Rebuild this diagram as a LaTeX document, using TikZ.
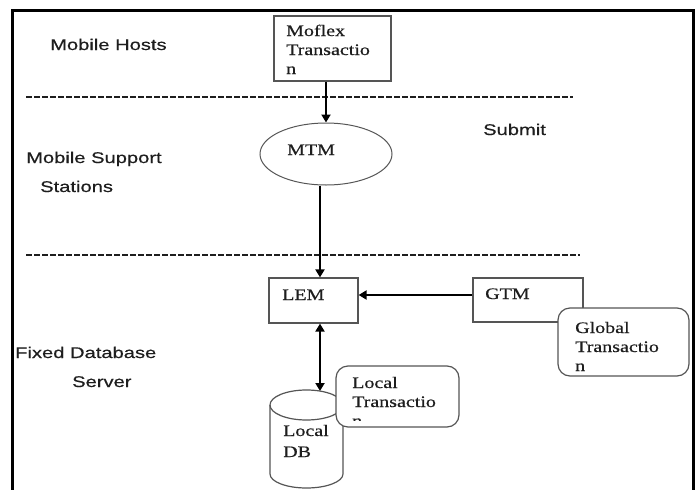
\documentclass[tikz,border=0pt]{standalone}
\usepackage{fontspec}
\usetikzlibrary{arrows.meta,shapes.geometric}
\newfontfamily\sansx{Liberation Sans}[FakeStretch=1.3,FakeBold=0.4]
\newfontfamily\serifx{Liberation Serif}[FakeStretch=1.25,FakeBold=0.5]
\definecolor{bord}{RGB}{85,85,85}
\definecolor{ink}{RGB}{30,30,30}
\begin{document}
\begin{tikzpicture}[x=1pt,y=-1pt,
  lbl/.style={font=\sansx\fontsize{15.5}{18}\selectfont, text=ink, inner sep=0pt, anchor=base west},
  btxt/.style={font=\serifx\fontsize{16}{19}\selectfont, text=ink, inner sep=0pt, anchor=base west},
  boxr/.style={draw=bord, line width=1.2pt, fill=white, rectangle, inner sep=0pt},
  rbox/.style={boxr, rounded corners=12pt},
  oval/.style={draw=bord, line width=1pt, ellipse, inner sep=0pt},
  arr/.style={line width=2.6pt, -{Triangle[length=8pt,width=9pt]}},
  darr/.style={line width=2.6pt, {Triangle[length=8pt,width=9pt]}-{Triangle[length=8pt,width=9pt]}},
  divider/.style={line width=1.7pt, draw=ink, dash pattern=on 6pt off 2pt},
  frame/.style={line width=3pt, draw=black}]
\useasboundingbox (0,0) rectangle (699,490);
% frame
\draw[frame] (12,495) -- (12,10) -- (693,10) -- (693,495);
% dividers
\coordinate (d1a) at (26,97);
\coordinate (d1b) at (573,97);
\coordinate (d2a) at (26,255);
\coordinate (d2b) at (580,255);
\draw[divider] (d1a) -- (d1b);
\draw[divider] (d2a) -- (d2b);
% left labels
\node[lbl] (lhosts) at (50,50) {Mobile Hosts};
\node[lbl] (lmss1) at (26,163) {Mobile Support};
\node[lbl] (lmss2) at (40,192) {Stations};
\node[lbl] (lsubmit) at (483,135) {Submit};
\node[lbl] (lfix1) at (15,358) {Fixed Database};
\node[lbl] (lfix2) at (72,387) {Server};
% boxes
\node[boxr, minimum width=117pt, minimum height=65pt] (mof) at (332.5,48.5) {};
\node[btxt] (moft) at (286,36) {\vtop{\hbox{Moflex}\hbox{Transactio}\hbox{n}}};
\node[oval, minimum width=132pt, minimum height=62pt] (mtm) at (326,154) {};
\node[btxt] (mtmt) at (287,155) {MTM};
\node[boxr, minimum width=89pt, minimum height=45pt] (lem) at (313.5,300.5) {};
\node[btxt] (lemt) at (282,300) {LEM};
\node[boxr, minimum width=110pt, minimum height=44pt] (gtm) at (528,300) {};
\node[btxt] (gtmt) at (485,299) {GTM};
\node[rbox, minimum width=131pt, minimum height=68pt] (glob) at (623.5,342) {};
\node[btxt] (globt) at (575,333) {\vtop{\hbox{Global}\hbox{Transactio}\hbox{n}}};
% cylinder (Local DB)
\fill[white] (270,405) -- (270,474) arc[start angle=180,end angle=360,x radius=36.5pt,y radius=14pt] -- (343,405) -- cycle;
\fill[white] (306.5,405) ellipse[x radius=36.5pt,y radius=15pt];
\draw[bord, line width=1.2pt] (306.5,405) ellipse[x radius=36.5pt,y radius=15pt];
\draw[bord, line width=1.2pt] (270,405) -- (270,474) arc[start angle=180,end angle=360,x radius=36.5pt,y radius=14pt] -- (343,405);
\coordinate (dbtop) at (320,391);
\node[btxt, font=\serifx\fontsize{16}{21}\selectfont] (dbt) at (283,436) {\vtop{\hbox{Local}\hbox{DB}}};
% local transaction box
\node[rbox, minimum width=123pt, minimum height=61pt] (loc) at (397.5,396.5) {};
\begin{scope}
\clip (337,367) rectangle (458,420);
\node[btxt] (loct) at (352,388) {\vtop{\hbox{Local}\hbox{Transactio}\hbox{n}}};
\end{scope}
% connectors
\coordinate (axis) at (320,0);
\coordinate (hrow) at (0,295);
\draw[arr] (mof.south -| mtm.north) -- (mtm.north);
\draw[arr] (mtm.south -| axis) -- (lem.north -| axis);
\draw[arr] (gtm.west |- hrow) -- (lem.east |- hrow);
\draw[darr] (lem.south -| axis) -- (dbtop);
\end{tikzpicture}
\end{document}
